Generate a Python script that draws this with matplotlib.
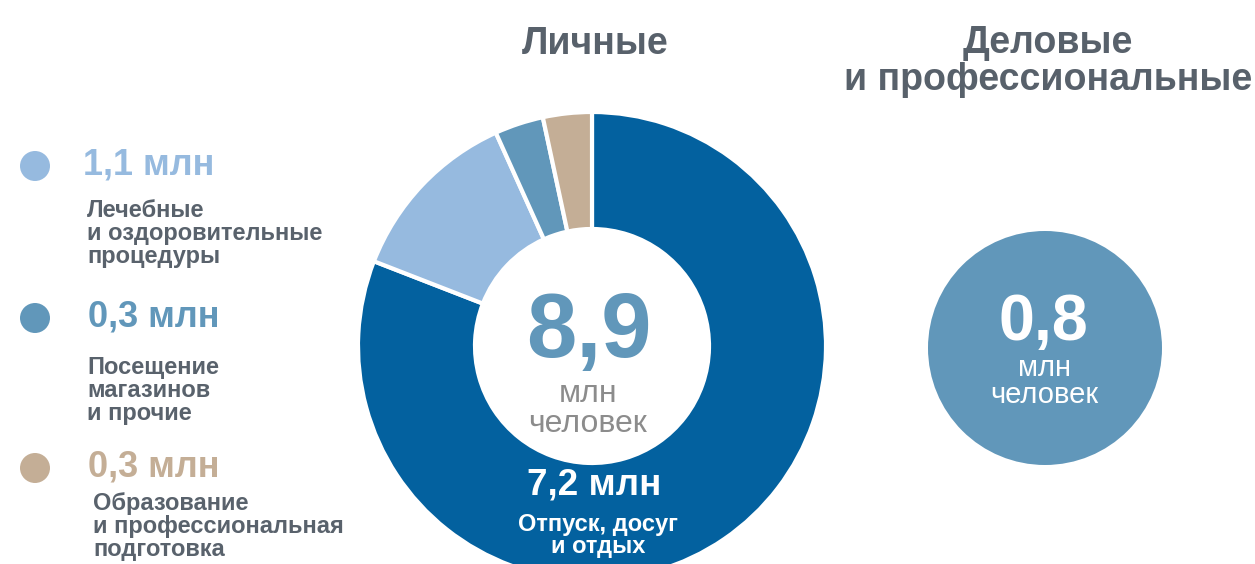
import matplotlib
matplotlib.use("Agg")
import matplotlib.pyplot as plt
from matplotlib.patches import Circle

plt.rcParams['font.family'] = ['Liberation Sans', 'DejaVu Sans']

# data
personal_labels = ["Отпуск, досуг\nи отдых", "Лечебные\nи оздоровительные\nпроцедуры",
                   "Посещение\nмагазинов\nи прочие",
                   "Образование\nи профессиональная\nподготовка"]
personal_values = [7.2, 1.1, 0.3, 0.3]
personal_colors = ["#03619F", "#96BADF", "#6197BA", "#C4AE96"]
personal_total = 8.9
business_total = 0.8

TITLE_C = "#58616B"
TEXT_C = "#59626C"
GREY_C = "#8C8C8C"
H = 564


def fmt(v):
    return f"{v:.1f}".replace(".", ",")


def Y(py):
    return H - py


def main():
    fig = plt.figure(figsize=(12.55, 5.64), dpi=100)
    ax = fig.add_axes([0, 0, 1, 1])

    # donut
    ax.pie(personal_values, colors=personal_colors, startangle=90,
           counterclock=False, radius=234, center=(592, Y(346)),
           wedgeprops=dict(width=117, edgecolor="white", linewidth=3))
    ax.set_xlim(0, 1255)
    ax.set_ylim(0, H)
    ax.set_aspect("equal")
    ax.axis("off")

    # titles (multi-line baseline = last line)
    ax.text(595, Y(54), "Личные", ha="center", va="baseline",
            fontsize=27, fontweight="bold", color=TITLE_C)
    ax.text(1048, Y(90), "Деловые\nи профессиональные", ha="center",
            va="baseline", fontsize=27, fontweight="bold", color=TITLE_C,
            linespacing=1.05)

    # centre of donut
    ax.text(589, Y(357), fmt(personal_total), ha="center", va="baseline",
            fontsize=65, fontweight="bold", color="#6197BA")
    ax.text(588, Y(432), "млн\nчеловек", ha="center", va="baseline",
            fontsize=23, color=GREY_C, linespacing=1.0)

    # main slice label
    ax.text(594, Y(495), fmt(personal_values[0]) + " млн", ha="center",
            va="baseline", fontsize=26.5, fontweight="bold", color="white")
    ax.text(598, Y(553), personal_labels[0], ha="center", va="baseline",
            fontsize=17, fontweight="bold", color="white", linespacing=0.95)

    # legend for the small slices
    dot_y = [166, 318, 468]
    val_x = [83, 88, 88]
    desc_x = [87, 87, 93]
    desc_y = [263, 420, 556]
    for i in range(3):
        ax.add_patch(Circle((35, Y(dot_y[i])), 15,
                            color=personal_colors[i + 1], lw=0))
        ax.text(val_x[i], Y(dot_y[i] + 9), fmt(personal_values[i + 1]) + " млн",
                ha="left", va="baseline", fontsize=26, fontweight="bold",
                color=personal_colors[i + 1])
        ax.text(desc_x[i], Y(desc_y[i]), personal_labels[i + 1], ha="left",
                va="baseline", fontsize=17, fontweight="bold", color=TEXT_C,
                linespacing=1.0)

    # business circle
    ax.add_patch(Circle((1045, Y(348)), 117, color="#6197BA", lw=0))
    ax.text(1043, Y(340), fmt(business_total), ha="center", va="baseline",
            fontsize=46.5, fontweight="bold", color="white")
    ax.text(1044, Y(403), "млн\nчеловек", ha="center", va="baseline",
            fontsize=21, color="white", linespacing=0.95)

    fig.savefig("out.png", dpi=100)


if __name__ == "__main__":
    main()
